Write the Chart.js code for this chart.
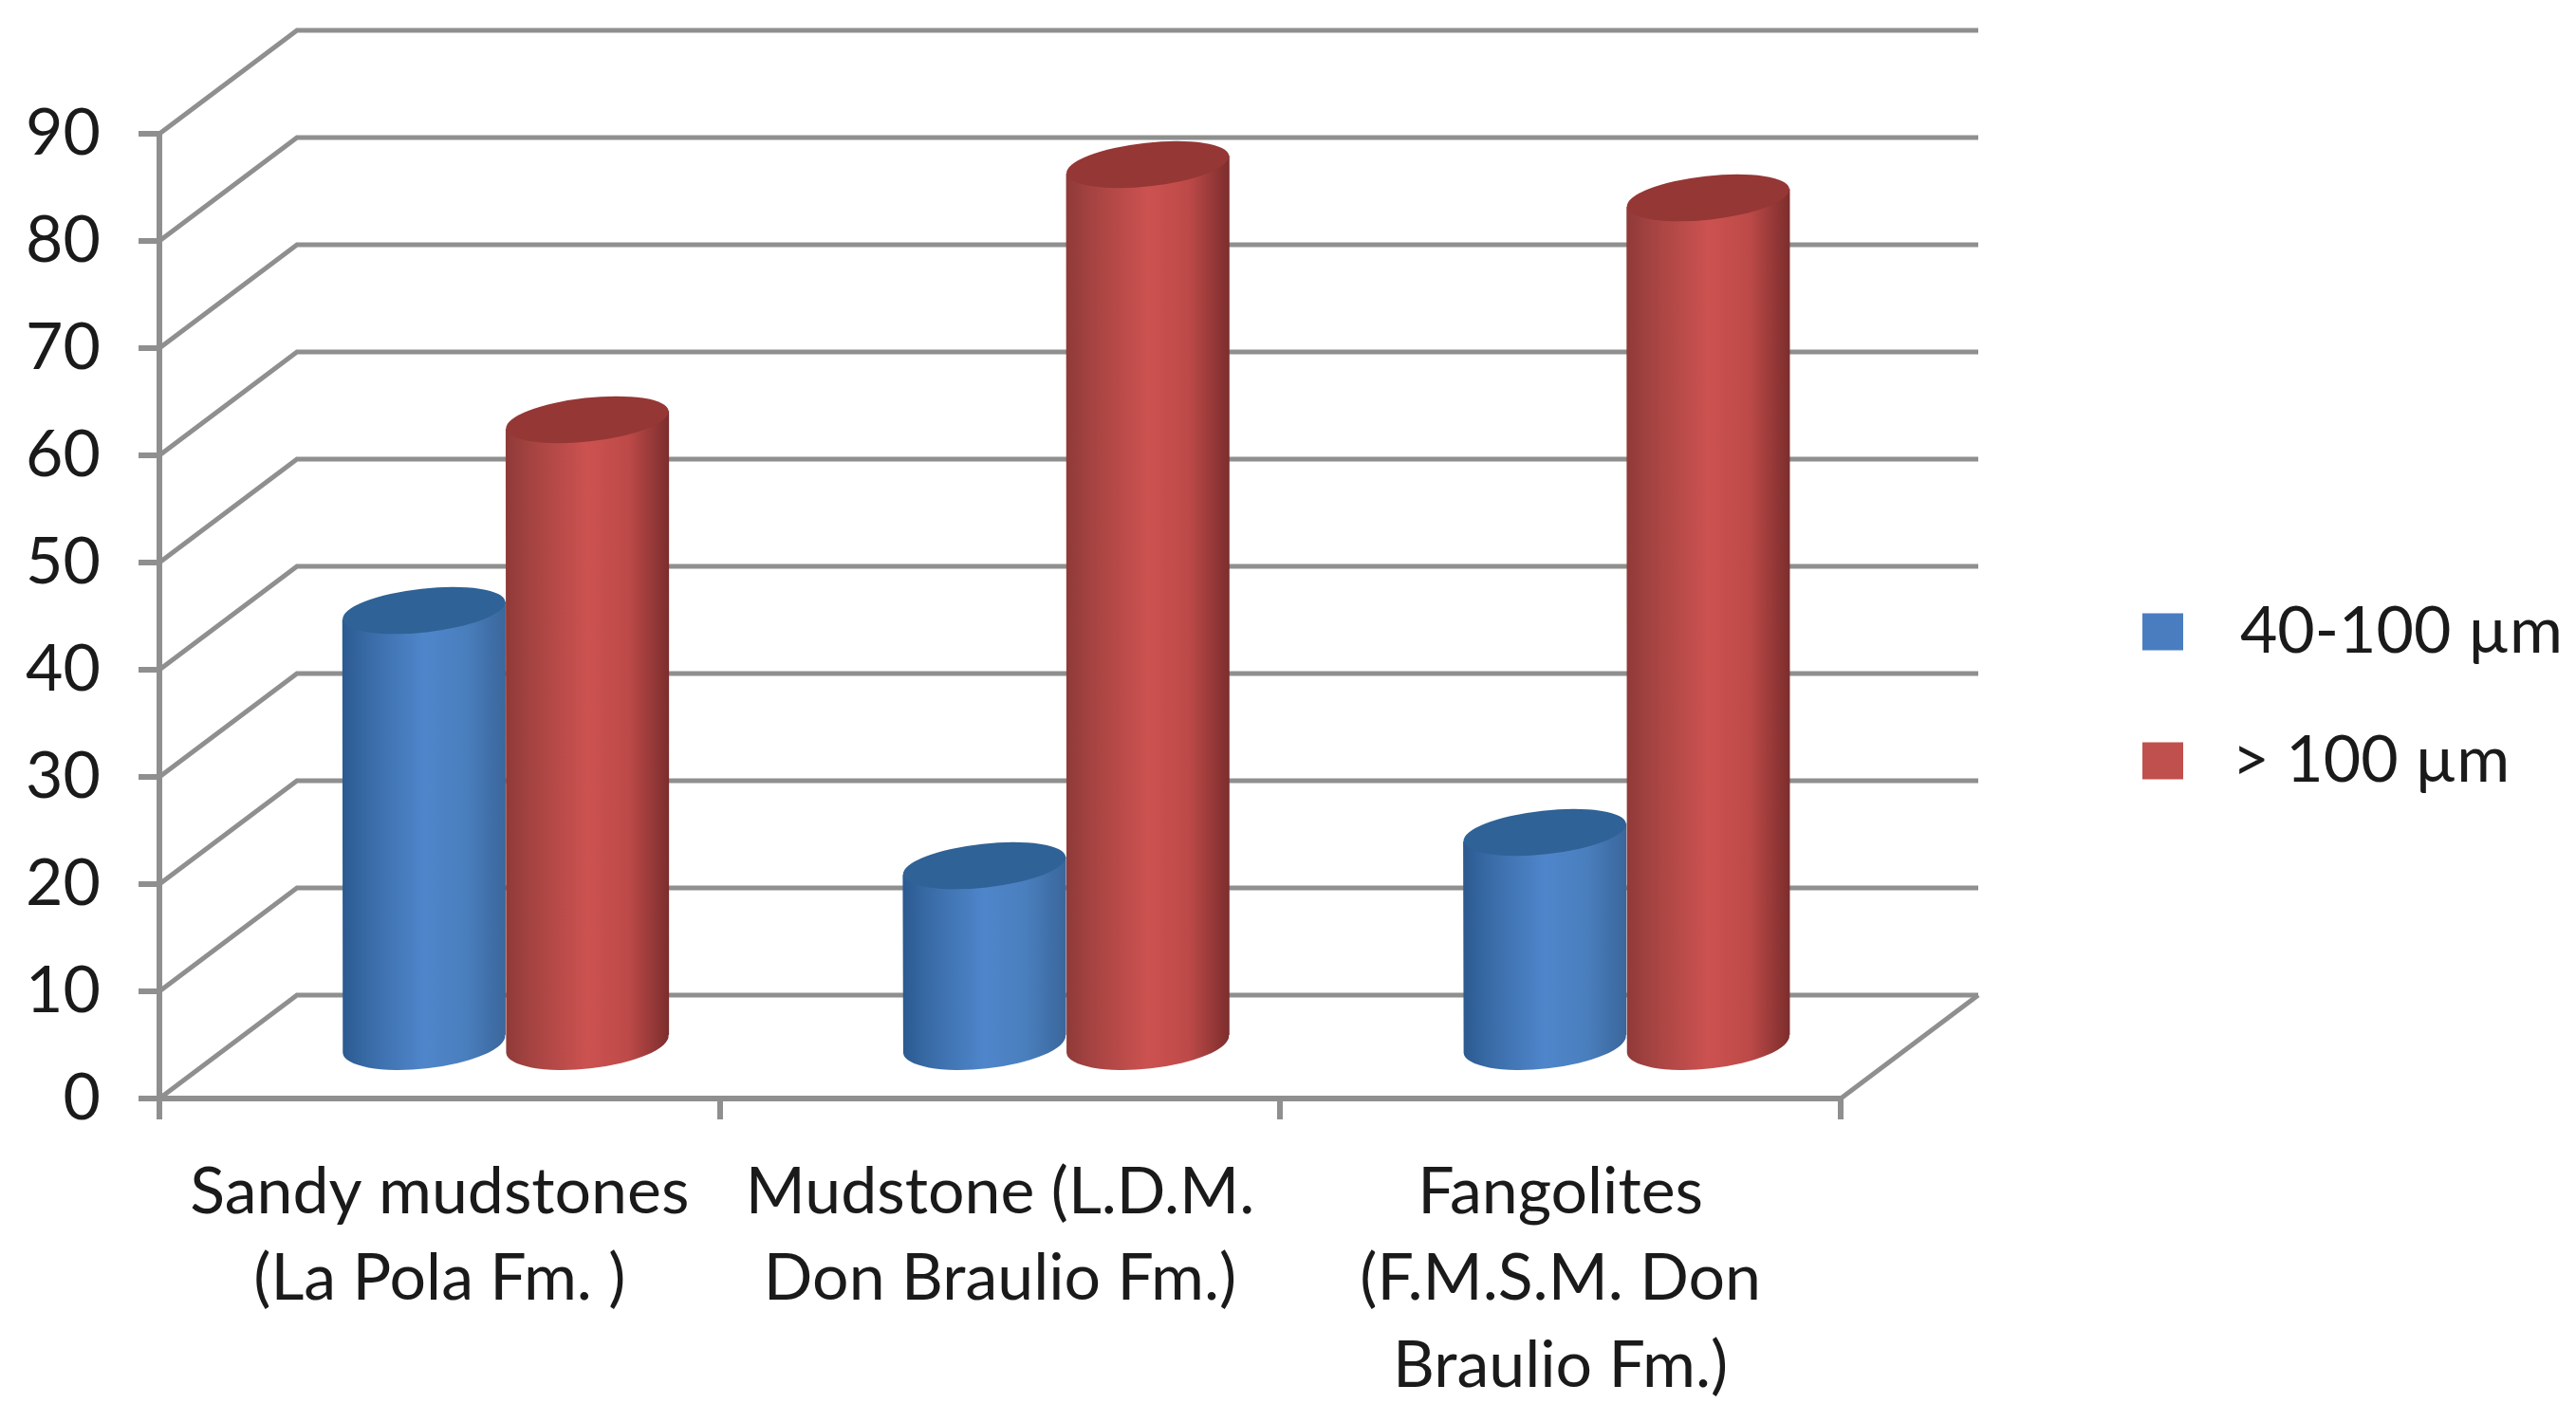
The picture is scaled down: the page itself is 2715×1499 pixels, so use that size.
<!DOCTYPE html>
<html>
<head>
<meta charset="utf-8">
<style>
  html, body { margin: 0; background: #fff; }
  canvas { display: block; filter: blur(0.7px); }
</style>
<script src="https://cdn.jsdelivr.net/npm/chart.js@4/dist/chart.umd.min.js"></script>
</head>
<body>
<canvas id="chart" width="2715" height="1499"></canvas>
<script>
const categories = [
  ["Sandy mudstones", "(La Pola Fm. )"],
  ["Mudstone (L.D.M.", "Don Braulio Fm.)"],
  ["Fangolites", "(F.M.S.M. Don", "Braulio Fm.)"],
];
const seriesNames = [" \u200940-100 µm", " > 100 µm"];
const fine = [40.7, 16.9, 20];
const coarse = [58.5, 82.3, 79.2];
const yTicks = [0, 10, 20, 30, 40, 50, 60, 70, 80, 90];

// fake 3D: how far the back wall sits from the front plane
const DEPTH_X = 145;
const DEPTH_Y = -109;
const GRID = "#8f8f8f";
const TEXT = "#1a1a1a";
const FONT = "Lato";

const cylinderColors = [
  { side: ["#2b5a90", "#386aa5", "#4f86cb", "#4a7fbe", "#3a669b"], top: "#2f6296" },
  { side: ["#8f3a38", "#a44341", "#cc5250", "#bd4a48", "#7c2d2d"], top: "#953735" },
];

function drawCylinder(ctx, bar, colors) {
  const { x, y, base, width } = bar.getProps(["x", "y", "base", "width"], true);
  const cx = x + DEPTH_X * 0.48;
  const topY = y + DEPTH_Y / 2;
  const baseY = base + DEPTH_Y / 2;
  const rx = width / 2;
  const ry = 23;
  const tilt = -0.11;
  const dy = rx * Math.sin(tilt);

  const grad = ctx.createLinearGradient(cx - rx, 0, cx + rx, 0);
  [0, 0.15, 0.5, 0.75, 1].forEach((s, i) => grad.addColorStop(s, colors.side[i]));

  ctx.beginPath();
  ctx.moveTo(cx - rx, topY - dy);
  ctx.lineTo(cx + rx, topY + dy);
  ctx.lineTo(cx + rx, baseY + dy);
  ctx.ellipse(cx, baseY, rx, ry + 3, tilt, 0, Math.PI);
  ctx.closePath();
  ctx.fillStyle = grad;
  ctx.fill();

  ctx.beginPath();
  ctx.ellipse(cx, topY, rx, ry, tilt, 0, Math.PI * 2);
  ctx.fillStyle = colors.top;
  ctx.fill();
}

// floor + back wall hung off the real scales, then cylinders on the bar elements' geometry
const cylinderPlugin = {
  id: "cylinder",
  beforeDatasetsDraw(chart) {
    const { ctx, scales: { x, y } } = chart;
    ctx.save();
    ctx.strokeStyle = GRID;
    ctx.lineWidth = 5;
    yTicks.forEach((v) => {
      const py = y.getPixelForValue(v);
      ctx.beginPath();
      ctx.moveTo(x.left, py);
      ctx.lineTo(x.left + DEPTH_X, py + DEPTH_Y);
      ctx.lineTo(x.right + DEPTH_X, py + DEPTH_Y);
      ctx.stroke();
    });
    const y0 = y.getPixelForValue(0);
    ctx.beginPath();
    ctx.moveTo(x.right, y0);
    ctx.lineTo(x.right + DEPTH_X, y0 + DEPTH_Y);
    ctx.stroke();

    // blue first, red sits over it
    chart.data.datasets.forEach((ds, i) => {
      chart.getDatasetMeta(i).data.forEach((bar) => drawCylinder(ctx, bar, cylinderColors[i]));
    });
    ctx.restore();
  },
  beforeDatasetDraw() {
    return false; // no flat bars
  },
};

// legend sits right of the walls, outside the plot
const legendPlacePlugin = {
  id: "legendPlace",
  afterLayout(chart) {
    const legend = chart.legend;
    const w = legend.width;
    const h = legend.height;
    legend.left = 2258 - legend.options.labels.padding;
    legend.right = legend.left + w;
    legend.top = 632 - legend.options.labels.padding;
    legend.bottom = legend.top + h;
  },
};

new Chart(document.getElementById("chart"), {
  type: "bar",
  data: {
    labels: categories,
    datasets: [
      { label: seriesNames[0], data: fine, backgroundColor: "#4a7dbf" },
      { label: seriesNames[1], data: coarse, backgroundColor: "#c0504d" },
    ],
  },
  plugins: [cylinderPlugin, legendPlacePlugin],
  options: {
    responsive: false,
    animation: false,
    events: [],
    layout: { autoPadding: false, padding: { left: 0, top: 141, right: 775, bottom: 0 } },
    datasets: { bar: { categoryPercentage: 0.583, barPercentage: 1 } },
    plugins: {
      title: { display: false },
      tooltip: { enabled: false },
      legend: {
        position: "chartArea",
        align: "start",
        labels: {
          boxWidth: 43,
          boxHeight: 39,
          padding: 68,
          color: TEXT,
          font: { family: FONT, size: 68 },
        },
      },
    },
    scales: {
      x: {
        afterFit(scale) { scale.height = 341; },
        grid: { offset: true, drawOnChartArea: false, color: GRID, lineWidth: 6, tickLength: 22 },
        border: { color: GRID, width: 6 },
        ticks: {
          color: TEXT,
          padding: 31,
          maxRotation: 0,
          autoSkip: false,
          font: { family: FONT, size: 68, lineHeight: 1.345 },
        },
      },
      y: {
        min: 0,
        max: 90,
        afterFit(scale) { scale.width = 168; },
        grid: { drawOnChartArea: false, color: GRID, lineWidth: 6, tickLength: 22 },
        border: { color: GRID, width: 6 },
        ticks: {
          stepSize: 10,
          color: TEXT,
          padding: 40,
          font: { family: FONT, size: 68 },
        },
      },
    },
  },
});
</script>
</body>
</html>
